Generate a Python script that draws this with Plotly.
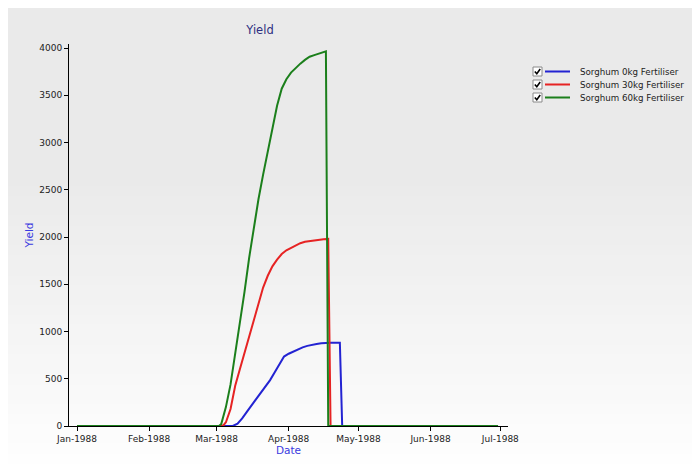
import plotly.graph_objects as go

# ---------------- data ----------------
blue_dates = ["1988-01-01", "1988-03-08", "1988-03-10", "1988-03-12", "1988-03-14", "1988-03-16",
              "1988-03-18", "1988-03-20", "1988-03-22", "1988-03-24", "1988-03-26", "1988-03-28",
              "1988-03-30", "1988-04-01", "1988-04-03", "1988-04-05", "1988-04-07", "1988-04-09",
              "1988-04-11", "1988-04-13", "1988-04-15", "1988-04-17", "1988-04-19", "1988-04-23",
              "1988-04-24", "1988-06-30"]
blue_vals = [0, 0, 25, 80, 150, 215, 285, 355, 420, 486, 570, 650,
             735, 765, 790, 812, 832, 848, 860, 868, 875, 879, 881, 881,
             0, 0]

red_dates = ["1988-01-01", "1988-03-03", "1988-03-04", "1988-03-05", "1988-03-07", "1988-03-09",
             "1988-03-11", "1988-03-13", "1988-03-15", "1988-03-17", "1988-03-19", "1988-03-21",
             "1988-03-23", "1988-03-25", "1988-03-27", "1988-03-29", "1988-03-31", "1988-04-02",
             "1988-04-04", "1988-04-06", "1988-04-08", "1988-04-10", "1988-04-12", "1988-04-14",
             "1988-04-16", "1988-04-18", "1988-04-19", "1988-06-30"]
red_vals = [0, 0, 10, 40, 180, 425, 600, 775, 950, 1120, 1290, 1465,
            1590, 1690, 1760, 1820, 1860, 1885, 1910, 1935, 1950, 1958, 1965, 1972,
            1977, 1980, 0, 0]

green_dates = ["1988-01-01", "1988-03-02", "1988-03-03", "1988-03-05", "1988-03-07", "1988-03-09",
               "1988-03-11", "1988-03-13", "1988-03-15", "1988-03-17", "1988-03-19", "1988-03-21",
               "1988-03-23", "1988-03-25", "1988-03-27", "1988-03-29", "1988-03-31", "1988-04-02",
               "1988-04-04", "1988-04-06", "1988-04-08", "1988-04-10", "1988-04-12", "1988-04-14",
               "1988-04-16", "1988-04-17", "1988-04-18", "1988-06-30"]
green_vals = [0, 0, 20, 200, 440, 760, 1080, 1420, 1780, 2110, 2400, 2660,
              2900, 3150, 3390, 3570, 3670, 3740, 3790, 3835, 3875, 3908, 3925, 3942,
              3958, 3965, 0, 0]

series_names = ["Sorghum 0kg Fertiliser", "Sorghum 30kg Fertiliser", "Sorghum 60kg Fertiliser"]
series_colors = ["#2323d2", "#e62323", "#1b7f1b"]

tick_format = "%b-%Y"
x_range = ["1987-12-28 13:00", "1988-07-04 07:00"]
y_range = [0, 4043]

# ---------------- layout geometry ----------------
# the page places the figure at an 8px offset, so the figure is 8px smaller
OFF = 8
VW, VH = 700, 464            # browser window
W, H = VW - OFF, VH - OFF    # figure size
L, R, T, B = 69, 508, 44, 426  # plot area in window pixels


def xp(px):
    return (px - L) / (R - L)


def yp(py):
    return (B - py) / (B - T)


FONT = "DejaVu Sans"

fig = go.Figure()
for d, v, n, c in zip([blue_dates, red_dates, green_dates],
                      [blue_vals, red_vals, green_vals],
                      series_names, series_colors):
    fig.add_trace(go.Scatter(x=d, y=v, mode="lines", name=n,
                             line=dict(color=c, width=2), showlegend=False))

shapes = []
annotations = []

# background gradient (grey at top -> white at bottom)
n_strips = 46
top_col, bot_col = 234, 254
grad_start = 180
for i in range(n_strips):
    y0 = OFF + i * H / n_strips
    y1 = OFF + (i + 1) * H / n_strips
    mid = (y0 + y1) / 2
    if mid < grad_start:
        c = top_col
    else:
        c = top_col + (bot_col - top_col) * (mid - grad_start) / (VH - grad_start)
    c = int(round(c))
    shapes.append(dict(type="rect", xref="paper", yref="paper", layer="below",
                       x0=xp(OFF - 2), x1=xp(VW + 2), y0=yp(y1 + 0.5), y1=yp(y0 - 0.5),
                       line=dict(width=0), fillcolor=f"rgb({c},{c},{c})"))

# custom legend with check boxes
rows_y = [71.5, 84.5, 97.5]
for yy, n, c in zip(rows_y, series_names, series_colors):
    shapes.append(dict(type="rect", xref="paper", yref="paper",
                       x0=xp(533), x1=xp(542), y0=yp(yy + 4.5), y1=yp(yy - 4.5),
                       line=dict(color="#8a8a8a", width=1), fillcolor="white"))
    shapes.append(dict(type="path", xref="paper", yref="paper",
                       path=f"M {xp(534.8)},{yp(yy)} L {xp(536.8)},{yp(yy + 2.2)} L {xp(540.2)},{yp(yy - 2.4)}",
                       line=dict(color="black", width=1.6)))
    shapes.append(dict(type="line", xref="paper", yref="paper",
                       x0=xp(545), x1=xp(570), y0=yp(yy), y1=yp(yy),
                       line=dict(color=c, width=2)))
    annotations.append(dict(text=n, xref="paper", yref="paper", x=xp(578), y=yp(yy),
                            xanchor="left", yanchor="middle", showarrow=False,
                            font=dict(family=FONT, size=8.7, color="#222222")))

fig.update_layout(
    width=W, height=H,
    margin=dict(l=L - OFF, r=VW - R, t=T - OFF, b=VH - B, pad=0),
    paper_bgcolor="rgba(0,0,0,0)", plot_bgcolor="rgba(0,0,0,0)",
    title=dict(text="Yield", x=(260 - OFF) / W, xref="container", xanchor="center",
               y=1 - (29.5 - OFF) / H, yref="container", yanchor="middle",
               font=dict(family=FONT, size=11.5, color="#2e2e80")),
    xaxis=dict(type="date", range=x_range, tickformat=tick_format, dtick="M1",
               tick0="1988-01-01", showgrid=False, zeroline=False, automargin=False,
               showline=True, linecolor="black", linewidth=1,
               ticks="outside", ticklen=4, tickcolor="black",
               tickfont=dict(family=FONT, size=9, color="#222222"),
               title=dict(text="Date", standoff=3,
                          font=dict(family=FONT, size=10.5, color="#3a3ae0"))),
    yaxis=dict(range=y_range, dtick=500, tick0=0, showgrid=False, zeroline=False,
               automargin=False,
               showline=True, linecolor="black", linewidth=1,
               ticks="outside", ticklen=4, tickcolor="black",
               tickfont=dict(family=FONT, size=9, color="#222222"),
               title=dict(text="Yield", standoff=3,
                          font=dict(family=FONT, size=10.5, color="#3a3ae0"))),
    shapes=shapes,
    annotations=annotations,
    showlegend=False,
)

fig.write_html("out.html")
